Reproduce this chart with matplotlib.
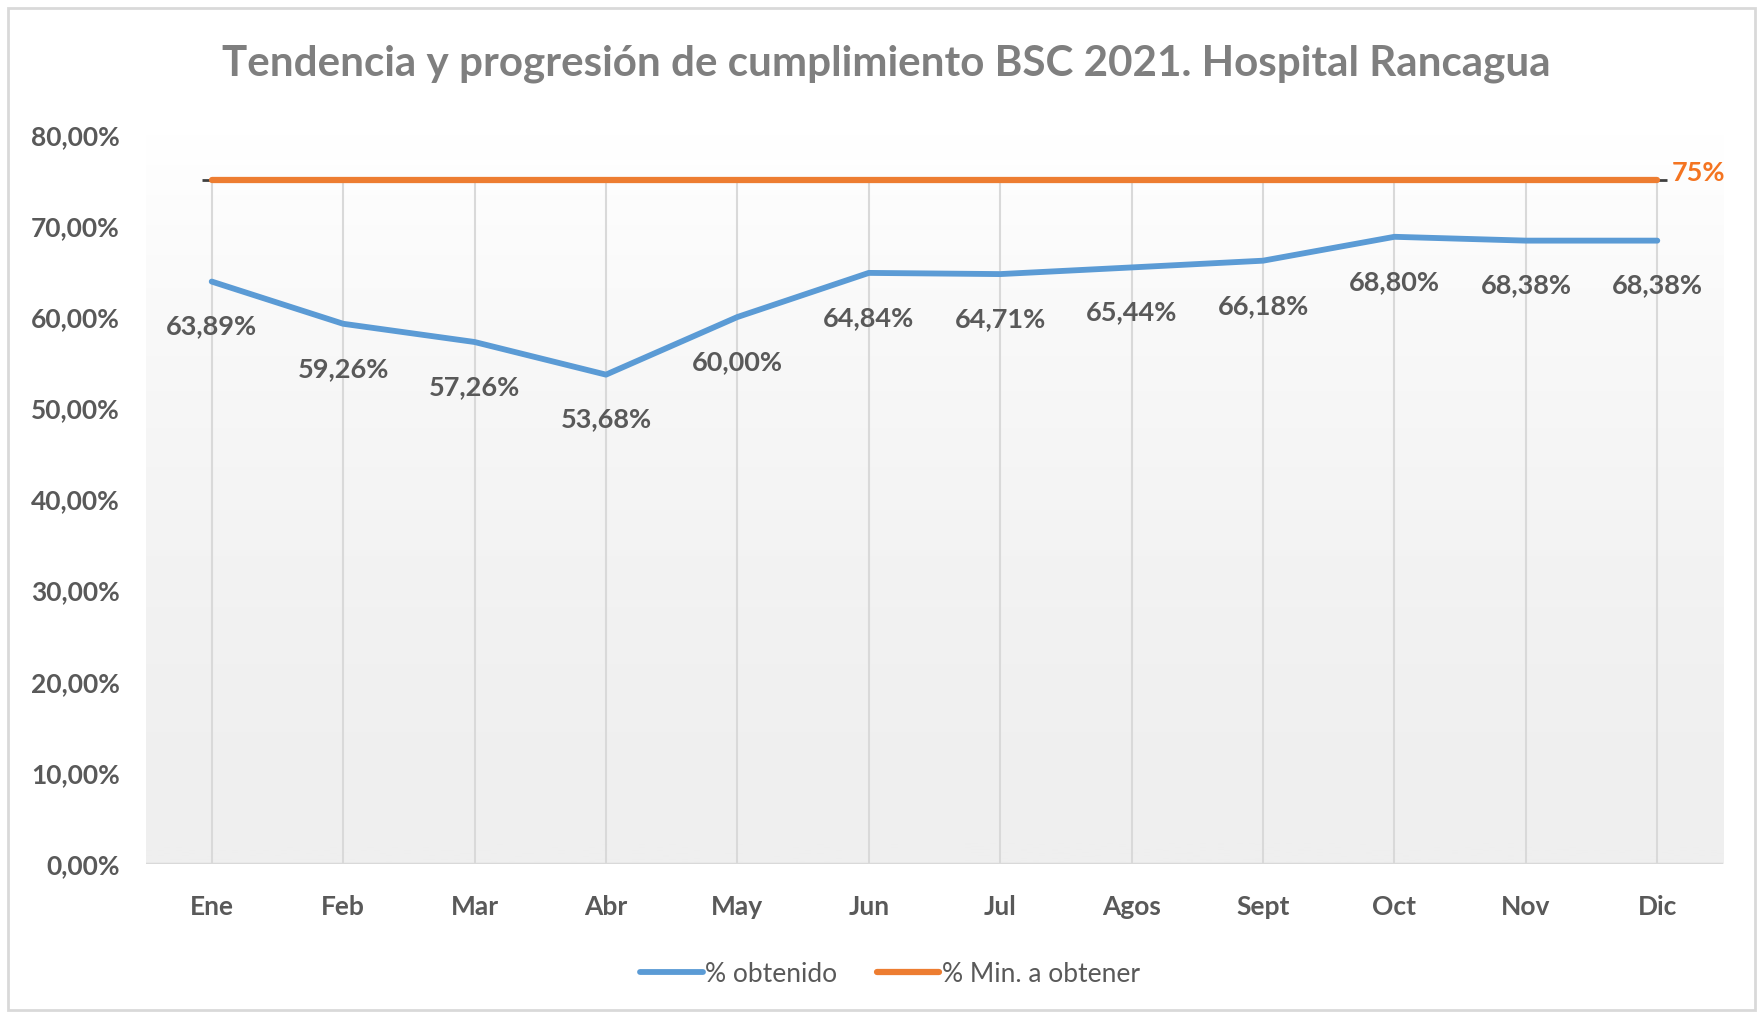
import numpy as np
import matplotlib
matplotlib.use("Agg")
import matplotlib.pyplot as plt
from matplotlib.colors import LinearSegmentedColormap
from matplotlib.patches import Rectangle

plt.rcParams['font.family'] = ['Lato', 'DejaVu Sans']

months = ["Ene", "Feb", "Mar", "Abr", "May", "Jun", "Jul", "Agos", "Sept", "Oct", "Nov", "Dic"]
obtenido = [63.89, 59.26, 57.26, 53.68, 60.00, 64.84, 64.71, 65.44, 66.18, 68.80, 68.38, 68.38]
minimo = [75] * 12
yticks = [0, 10, 20, 30, 40, 50, 60, 70, 80]
title = "Tendencia y progresión de cumplimiento BSC 2021. Hospital Rancagua"

BLUE = "#5B9BD5"
ORANGE = "#ED7D31"
TXT = "#595959"

fig = plt.figure(figsize=(17.6, 10.18), dpi=100)
ax = fig.add_axes([146/1760, 1-864/1018, (1723-146)/1760, (864-134.7)/1018])

x = np.arange(len(months))
ax.set_xlim(-0.5, len(months)-0.5)
ax.set_ylim(0, 80)

# gradient background
cmap = LinearSegmentedColormap.from_list("bg", ["#efefef", "#ffffff"])
grad = np.linspace(0, 1, 256).reshape(-1, 1) ** 1.6
ax.imshow(grad, extent=[-0.5, len(months)-0.5, 0, 80], origin="lower",
          aspect="auto", cmap=cmap, zorder=0)

# vertical gridlines
ax.vlines(x, 0, 75, colors="#d9d9d9", lw=1.5, zorder=1)
ax.axhline(0, color="#d9d9d9", lw=2.5, zorder=1)

# endpoint dashes of target line
ax.plot([x[0], x[-1]], [minimo[0], minimo[-1]], ls="none", marker="_",
        ms=14, mew=2, color="#404040", zorder=2)
ax.plot(x, minimo, color=ORANGE, lw=4.5, solid_capstyle="round", zorder=3,
        label="% Min. a obtener")
ax.plot(x, obtenido, color=BLUE, lw=4.2, solid_capstyle="round",
        solid_joinstyle="round", zorder=4, label="% obtenido")

for xi, v in zip(x, obtenido):
    ax.annotate(f"{v:.2f}%".replace(".", ","), (xi, v), xytext=(0, -45),
                textcoords="offset pixels", ha="center", va="center",
                fontsize=19.5, fontweight="bold", color=TXT, zorder=5)
ax.annotate(f"{minimo[-1]}%", (x[-1], minimo[-1]), xytext=(14, 7),
            textcoords="offset pixels", ha="left", va="center",
            fontsize=19.5, fontweight="bold", color="#F47421")

ax.set_yticks(yticks)
ax.set_yticklabels([f"{t:.2f}%".replace(".", ",") for t in yticks])
ax.set_xticks(x)
ax.set_xticklabels(months)
ax.tick_params(axis="both", length=0, labelsize=19, labelcolor=TXT)
ax.tick_params(axis="y", pad=19)
ax.tick_params(axis="x", pad=22)
for lab in ax.get_xticklabels() + ax.get_yticklabels():
    lab.set_fontweight("bold")
for s in ax.spines.values():
    s.set_visible(False)

handles, labels = ax.get_legend_handles_labels()
leg = fig.legend(handles[::-1], labels[::-1], loc="center",
                 bbox_to_anchor=(890/1760, 1-974/1018), ncol=2, frameon=False,
                 fontsize=19, handlelength=2.35, handletextpad=0.1,
                 columnspacing=1.5)
for t in leg.get_texts():
    t.set_color(TXT)

fig.text(886/1760, 1-64/1018, title, ha="center", va="center",
         fontsize=30.3, fontweight="bold", color="#7f7f7f")

fig.patches.append(Rectangle((8/1760, 8/1018), (1755-8)/1760, (1010-8)/1018,
                             transform=fig.transFigure, fill=False,
                             edgecolor="#d9d9d9", lw=2))

fig.savefig("out.png", dpi=100)
